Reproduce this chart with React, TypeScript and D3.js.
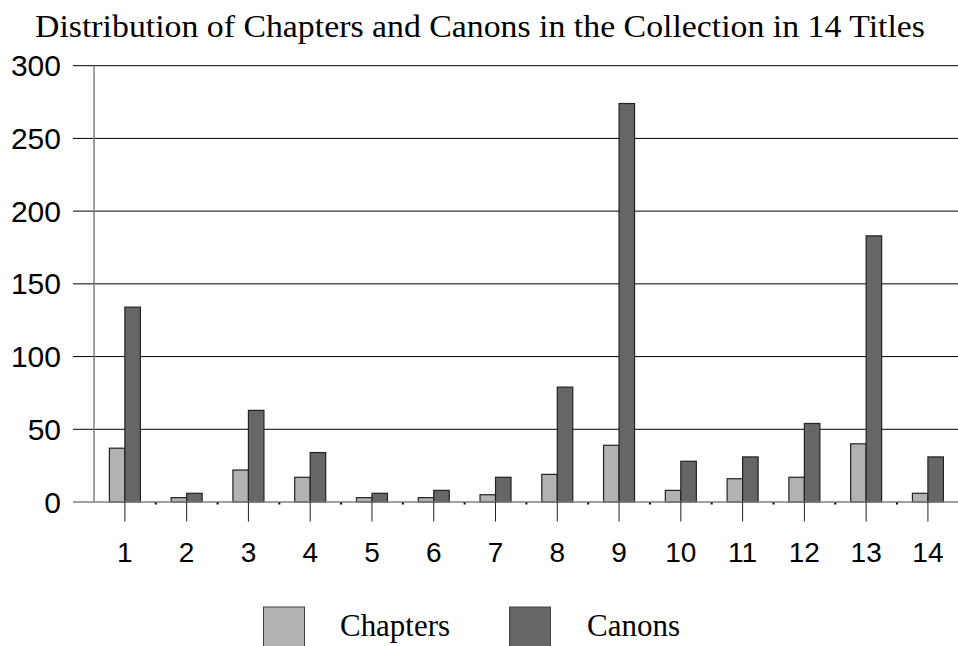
import React from 'react';
import * as d3 from 'd3';

const titles = ['1', '2', '3', '4', '5', '6', '7', '8', '9', '10', '11', '12', '13', '14'];
const chapters = [37, 3, 22, 17, 3, 3, 5, 19, 39, 8, 16, 17, 40, 6];
const canons = [134, 6, 63, 34, 6, 8, 17, 79, 274, 28, 31, 54, 183, 31];
const seriesNames = ['Chapters', 'Canons'];
const seriesColors = ['#b2b2b2', '#666666'];
const yTicks = [0, 50, 100, 150, 200, 250, 300];

const W = 958;
const H = 646;

export default function App() {
  const x = d3.scaleBand().domain(titles).range([94, 958.8]).padding(0);
  const y = d3.scaleLinear().domain([0, 300]).range([502, 65.7]);
  const inner = d3.scaleBand().domain(seriesNames).range([-15.5, 15.5]);
  const values = [chapters, canons];

  return (
    <svg width={W} height={H} style={{ position: 'absolute', left: 0, top: 0 }}>
      <rect width={W} height={H} fill="#fff" />
      <text
        x={35}
        y={37}
        textLength={890}
        lengthAdjust="spacingAndGlyphs"
        style={{ fontFamily: '"Liberation Serif", serif', fontSize: 31 }}
      >
        Distribution of Chapters and Canons in the Collection in 14 Titles
      </text>

      {/* gridlines + y labels */}
      {yTicks.map(t => (
        <g key={t}>
          {t > 0 && (
            <line x1={73} x2={W} y1={y(t)} y2={y(t)} stroke="#000" strokeWidth={1} />
          )}
          <text
            x={61}
            y={y(t)}
            textAnchor="end"
            dominantBaseline="central"
            style={{ fontFamily: '"Liberation Sans", Arial, sans-serif', fontSize: 30 }}
          >
            {t}
          </text>
        </g>
      ))}

      {/* bars */}
      {titles.map((c, i) => (
        <g key={c} transform={`translate(${x(c)! + x.bandwidth() / 2},0)`}>
          {seriesNames.map((s, j) => (
            <rect
              key={s}
              x={inner(s)!}
              y={y(values[j][i])}
              width={inner.bandwidth()}
              height={y(0) - y(values[j][i])}
              fill={seriesColors[j]}
              stroke="#222"
              strokeWidth={1.2}
            />
          ))}
        </g>
      ))}

      {/* axes */}
      <line x1={73} x2={W} y1={y(0)} y2={y(0)} stroke="#808080" strokeWidth={1.5} />
      <line x1={94} x2={94} y1={y(300)} y2={y(0)} stroke="#808080" strokeWidth={1.5} />
      {titles.slice(0, -1).map(c => (
        <rect key={c} x={x(c)! + x.bandwidth() - 1} y={y(0) + 0.5} width={2} height={2} fill="#000" />
      ))}
      {titles.map(c => (
        <g key={c}>
          <line
            x1={x(c)! + x.bandwidth() / 2}
            x2={x(c)! + x.bandwidth() / 2}
            y1={y(0)}
            y2={521.5}
            stroke="#222"
            strokeWidth={1}
          />
          <text
            x={x(c)! + x.bandwidth() / 2}
            y={562}
            textAnchor="middle"
            style={{ fontFamily: '"Liberation Sans", Arial, sans-serif', fontSize: 28 }}
          >
            {c}
          </text>
        </g>
      ))}

      {/* legend */}
      {seriesNames.map((s, j) => {
        const bx = [263.5, 509.5][j];
        const tx = [340, 587][j];
        const tw = [110, 93][j];
        return (
          <g key={s}>
            <rect x={bx} y={607} width={41} height={41} fill={seriesColors[j]} stroke="#444" strokeWidth={1} />
            <text
              x={tx}
              y={636}
              textLength={tw}
              lengthAdjust="spacingAndGlyphs"
              style={{ fontFamily: '"Liberation Serif", serif', fontSize: 32 }}
            >
              {s}
            </text>
          </g>
        );
      })}
    </svg>
  );
}
